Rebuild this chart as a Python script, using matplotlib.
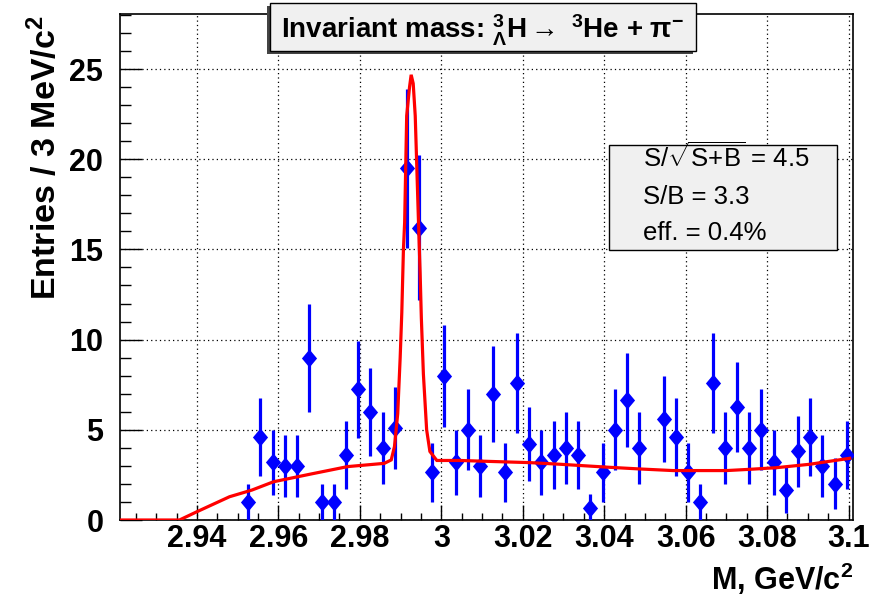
import matplotlib
matplotlib.use("Agg")
import matplotlib.pyplot as plt
from matplotlib.patches import Rectangle
from matplotlib.ticker import MultipleLocator, FixedLocator
import numpy as np

plt.rcParams['font.family'] = ['Liberation Sans', 'DejaVu Sans']
plt.rcParams['mathtext.fontset'] = 'custom'
plt.rcParams['mathtext.rm'] = 'Liberation Sans'
plt.rcParams['mathtext.bf'] = 'Liberation Sans:bold'
plt.rcParams['mathtext.it'] = 'Liberation Sans:italic'

# ---- data (bin centres in GeV/c^2, entries, errors) ----
mass = [2.9526, 2.9556, 2.9586, 2.9616, 2.9646, 2.9676, 2.9706, 2.9736, 2.9766, 2.9796,
        2.9826, 2.9856, 2.9886, 2.9916, 2.9946, 2.9976, 3.0006, 3.0036, 3.0066, 3.0096,
        3.0126, 3.0156, 3.0186, 3.0216, 3.0246, 3.0276, 3.0306, 3.0336, 3.0366, 3.0396,
        3.0426, 3.0456, 3.0486, 3.0546, 3.0576, 3.0606, 3.0636, 3.0666, 3.0696, 3.0726,
        3.0756, 3.0786, 3.0816, 3.0846, 3.0876, 3.0906, 3.0936, 3.0966, 3.0996]
entries = [1.0, 4.6, 3.2, 3.0, 3.0, 9.0, 1.0, 1.0, 3.6, 7.25,
           6.0, 4.0, 5.1, 19.5, 16.2, 2.65, 8.0, 3.2, 5.0, 3.0,
           7.0, 2.65, 7.6, 4.2, 3.2, 3.6, 4.0, 3.6, 0.65, 2.65,
           5.0, 6.65, 4.0, 5.6, 4.6, 2.65, 1.0, 7.6, 4.0, 6.25,
           4.0, 5.0, 3.2, 1.65, 3.8, 4.6, 3.0, 2.0, 3.6]
errors = [1.0, 2.14, 1.79, 1.73, 1.73, 3.0, 1.0, 1.0, 1.9, 2.69,
          2.45, 2.0, 2.26, 4.42, 4.02, 1.63, 2.83, 1.79, 2.24, 1.73,
          2.65, 1.63, 2.76, 2.05, 1.79, 1.9, 2.0, 1.9, 0.81, 1.63,
          2.24, 2.58, 2.0, 2.37, 2.14, 1.63, 1.0, 2.76, 2.0, 2.5,
          2.0, 2.24, 1.79, 1.28, 1.95, 2.14, 1.73, 1.41, 1.9]

# fit curve
fit_x = [2.9211, 2.9357, 2.9400, 2.9480, 2.9535, 2.9588, 2.9680, 2.9770, 2.9860, 2.9877,
         2.9885, 2.9893, 2.9899, 2.9903, 2.9907, 2.9910, 2.9915, 2.9922, 2.9926, 2.9931,
         2.9936, 2.9944, 2.9948, 2.9951, 2.9956, 2.9964, 2.9972, 2.9989, 3.0046, 3.0144,
         3.0218, 3.0292, 3.0356, 3.0414, 3.0487, 3.0569, 3.0700, 3.0758, 3.0823, 3.0905,
         3.0946, 3.1003]
fit_y = [0.0, 0.0, 0.46, 1.29, 1.66, 2.12, 2.55, 2.96, 3.14, 3.33,
         4.07, 5.9, 9.0, 11.5, 15.0, 16.5, 22.4, 24.0, 24.68, 24.2,
         22.4, 16.5, 13.7, 11.2, 8.1, 5.0, 3.8, 3.3, 3.3, 3.23,
         3.18, 3.09, 3.0, 2.92, 2.83, 2.74, 2.74, 2.81, 2.9, 3.09,
         3.23, 3.42]

x_ticks = [2.94, 2.96, 2.98, 3.00, 3.02, 3.04, 3.06, 3.08, 3.10]
x_ticklabels = ["2.94", "2.96", "2.98", "3", "3.02", "3.04", "3.06", "3.08", "3.1"]
y_ticks = [0, 5, 10, 15, 20, 25]

title = r"Invariant mass: $^{\mathbf{3}}_{\mathbf{\Lambda}}$H$\mathbf{\rightarrow}$ $^{\mathbf{3}}$He + π$^{\mathbf{-}}$"
stats = [r"S/$\sqrt{\mathrm{S{+}B}}$ = 4.5", "S/B = 3.3", "eff. = 0.4%"]

W, H = 876, 599
fig = plt.figure(figsize=(W / 100, H / 100), dpi=100)
fig.patch.set_facecolor('white')
ax = fig.add_axes([120 / W, 1 - 520 / H, (853 - 120) / W, (520 - 14) / H])
ax.set_zorder(1)

ax.errorbar(mass, entries, yerr=errors, fmt='none', ecolor='#0000ff', elinewidth=2.3,
            capsize=0, zorder=3)
diamond = [(-0.42, 0), (0, 0.5), (0.42, 0), (0, -0.5), (-0.42, 0)]
ax.plot(mass, entries, linestyle='none', marker=diamond, markersize=13,
        color='#0000ff', markeredgewidth=0, zorder=4)
ax.plot(fit_x, fit_y, color='#ff0000', lw=2.3, zorder=5, solid_joinstyle='miter')

ax.set_xlim(2.9211, 3.1011)
ax.set_ylim(0, 28.05)
ax.xaxis.set_major_locator(FixedLocator(x_ticks))
ax.set_xticklabels(x_ticklabels)
ax.xaxis.set_minor_locator(MultipleLocator(0.005))
ax.yaxis.set_major_locator(FixedLocator(y_ticks))
ax.yaxis.set_minor_locator(MultipleLocator(1))
for lab in ax.get_xticklabels() + ax.get_yticklabels():
    lab.set_fontweight('bold')
    lab.set_fontsize(22)
ax.tick_params(axis='both', which='both', direction='in', top=False, right=False, width=1, color='black')
ax.tick_params(axis='x', which='major', length=10.8, pad=3)
ax.tick_params(axis='x', which='minor', length=5.4)
ax.tick_params(axis='y', which='major', length=15.8, pad=12)
ax.tick_params(axis='y', which='minor', length=7.9)
ax.grid(True, which='major', color='black', linestyle=(0, (1, 2.5)), linewidth=0.9)
ax.set_axisbelow(True)
for s in ax.spines.values():
    s.set_linewidth(1.2)
    s.set_color('black')

fig.text(45 / W, 1 - 15 / H, r"Entries / 3 MeV/c$^{\mathbf{2}}$", rotation=90,
         ha='center', va='top', fontsize=24.5, fontweight='bold')
fig.text(853 / W, 1 - 590 / H, r"M, GeV/c$^{\mathbf{2}}$", ha='right', va='baseline',
         fontsize=22, fontweight='bold')

# title box with shadow
tx0, tx1, ty0, ty1 = 270, 696, 3, 51
fig.add_artist(Rectangle(((tx0 - 3) / W, 1 - (ty1 + 3) / H), (tx1 - tx0) / W, (ty1 - ty0) / H,
                         transform=fig.transFigure, facecolor='#444444', edgecolor='none', zorder=10))
fig.add_artist(Rectangle((tx0 / W, 1 - ty1 / H), (tx1 - tx0) / W, (ty1 - ty0) / H,
                         transform=fig.transFigure, facecolor='#f0f0f0', edgecolor='black',
                         linewidth=1.0, zorder=11))
fig.text((tx0 + tx1) / 2 / W, 1 - 38 / H, title, ha='center', va='baseline',
         fontsize=20, fontweight='bold', zorder=12)

# stats box
sx0, sx1, sy0, sy1 = 609, 837, 145, 250
fig.add_artist(Rectangle((sx0 / W, 1 - sy1 / H), (sx1 - sx0) / W, (sy1 - sy0) / H,
                         transform=fig.transFigure, facecolor='#f0f0f0', edgecolor='black',
                         linewidth=1.0, zorder=11))
for txt, yb in zip(stats, [167, 204, 240]):
    fig.text(643 / W, 1 - yb / H, txt, ha='left', va='baseline', fontsize=18.5, zorder=12)

fig.savefig("out.png", dpi=100, facecolor='white')
